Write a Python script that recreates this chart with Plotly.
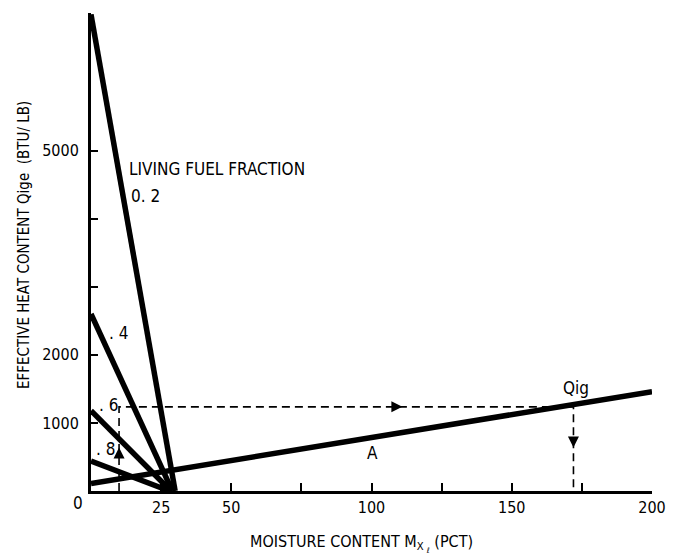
import plotly.graph_objects as go

# ---- data ----
fractions = ["0. 2", ". 4", ". 6", ". 8"]
qige_at_dry = [7000, 2600, 1180, 440]       # Qige at 0 % moisture
moisture_at_zero = [30, 29, 28.5, 28]        # moisture where Qige reaches 0

lineA_moisture = [0, 200]
lineA_qig = [110, 1460]

# worked example (dashed path)
ex_moisture_start = 10
ex_qige = 1236
ex_moisture_end = 172

x_ticks = [0, 25, 50, 75, 100, 125, 150, 175, 200]
x_ticklabels = ["", "25", "50", "", "100", "", "150", "", "200"]
y_ticks = [1000, 2000, 3000, 4000, 5000]
y_ticklabels = ["1000", "2000", "", "", "5000"]

FONT = "Liberation Sans Narrow, DejaVu Sans Condensed, Arial Narrow, sans-serif"

fig = go.Figure()

# living fuel fraction lines
for q0, m0 in zip(qige_at_dry, moisture_at_zero):
    fig.add_trace(go.Scatter(x=[0, m0], y=[q0, 0], mode="lines",
                             line=dict(color="black", width=5.5),
                             showlegend=False, hoverinfo="skip"))

# line A
fig.add_trace(go.Scatter(x=lineA_moisture, y=lineA_qig, mode="lines",
                         line=dict(color="black", width=5.5),
                         showlegend=False, hoverinfo="skip"))

# dashed example path
fig.add_trace(go.Scatter(
    x=[ex_moisture_start, ex_moisture_start, ex_moisture_end, ex_moisture_end],
    y=[0, ex_qige, ex_qige, 0],
    mode="lines", line=dict(color="black", width=1.6, dash="8px,5px"),
    showlegend=False, hoverinfo="skip"))

# arrow heads
fig.add_trace(go.Scatter(
    x=[ex_moisture_start, 111, ex_moisture_end],
    y=[640, ex_qige, 640],
    mode="markers",
    marker=dict(symbol=["arrow-up", "arrow-right", "arrow-down"],
                size=11, color="black"),
    showlegend=False, hoverinfo="skip"))

ann_font = dict(family=FONT, size=17, color="black")
labels = [
    ("LIVING FUEL FRACTION", 13.0, 4730),
    (fractions[0], 13.6, 4330),
    (fractions[1], 5.6, 2320),
    (fractions[2], 2.0, 1260),
    (fractions[3], 1.2, 610),
]
for txt, x, y in labels:
    fig.add_annotation(x=x, y=y, text=txt, showarrow=False, xanchor="left",
                       yanchor="middle", font=ann_font)
fig.add_annotation(x=100.3, y=556, text="A", showarrow=False, font=ann_font)
fig.add_annotation(x=173, y=1520, text="Qig", showarrow=False, font=ann_font)

# origin "0" label
fig.add_annotation(xref="paper", yref="paper", x=-0.023, y=-0.025, text="0",
                   xanchor="center", yanchor="middle",
                   showarrow=False, font=ann_font)

# axis titles
fig.add_annotation(xref="paper", yref="paper", x=-0.119, y=0.515,
                   xanchor="center", yanchor="middle",
                   text="EFFECTIVE HEAT CONTENT Qige  (BTU/ LB)", textangle=-90,
                   showarrow=False, font=dict(family=FONT, size=15, color="black"))
fig.add_annotation(xref="paper", yref="paper", x=0.483, y=-0.109,
                   xanchor="center", yanchor="middle",
                   text="MOISTURE CONTENT M<sub>X <sub><i>ℓ</i></sub></sub> (PCT)",
                   showarrow=False, font=dict(family=FONT, size=16, color="black"))

fig.update_xaxes(range=[0, 200], tickvals=x_ticks, ticktext=x_ticklabels,
                 showline=True, linecolor="black", linewidth=3, mirror=False,
                 ticks="inside", ticklen=8, tickwidth=2, tickcolor="black",
                 showgrid=False, zeroline=False,
                 tickfont=dict(family=FONT, size=16, color="black"))
fig.update_yaxes(range=[0, 7020], tickvals=y_ticks, ticktext=y_ticklabels,
                 showline=True, linecolor="black", linewidth=3, mirror=False,
                 ticks="inside", ticklen=7, tickwidth=2, tickcolor="black",
                 showgrid=False, zeroline=False, ticklabelstandoff=6,
                 tickfont=dict(family=FONT, size=16, color="black"))

fig.update_layout(width=678, height=559, margin=dict(l=91, r=24, t=13, b=68),
                  plot_bgcolor="white", paper_bgcolor="white", showlegend=False)

fig.write_html("out.html")
